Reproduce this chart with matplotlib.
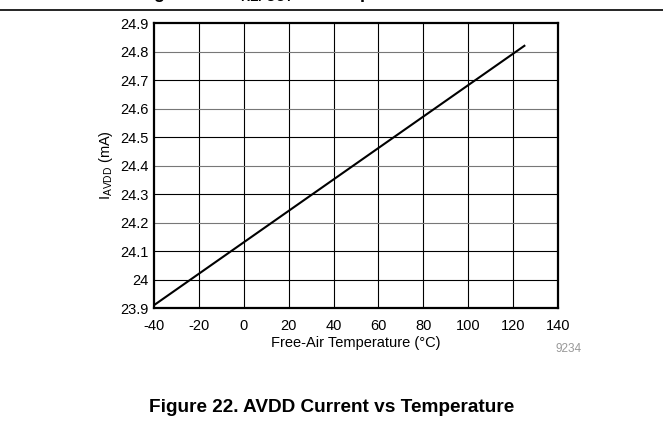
import numpy as np
import matplotlib
matplotlib.use("Agg")
import matplotlib.pyplot as plt

plt.rcParams['font.family'] = ['Liberation Sans', 'DejaVu Sans']
plt.rcParams['axes.unicode_minus'] = False

# data
temp = [-40, 125]
i_avdd = [23.91, 24.82]
xticks = [-40, -20, 0, 20, 40, 60, 80, 100, 120, 140]
yticks = [23.9, 24, 24.1, 24.2, 24.3, 24.4, 24.5, 24.6, 24.7, 24.8, 24.9]
ylabels = ['23.9', '24', '24.1', '24.2', '24.3', '24.4', '24.5', '24.6', '24.7', '24.8', '24.9']

fig = plt.figure(figsize=(6.63, 4.34), dpi=100)
ax = fig.add_axes([0.2323, 0.2903, 0.6094, 0.6567])

for x in xticks[1:-1]:
    ax.axvline(x, color='black', lw=0.8, zorder=1)
for k, y in enumerate(yticks[1:-1]):
    ax.axhline(y, color='#777777' if k in (2, 4, 6, 8) else 'black', lw=0.8, zorder=1)

ax.plot(temp, i_avdd, color='black', lw=1.5, zorder=3)

ax.set_xlim(-40, 140)
ax.set_ylim(23.9, 24.9)
ax.set_xticks(xticks)
ax.set_xticklabels([str(v) for v in xticks])
ax.set_yticks(yticks)
ax.set_yticklabels(ylabels)
ax.tick_params(length=0, labelsize=10.5)
ax.tick_params(axis='x', pad=8)
ax.tick_params(axis='y', pad=4)
for s in ax.spines.values():
    s.set_linewidth(1.6)

ax.set_xlabel('Free-Air Temperature (°C)', fontsize=10.5, labelpad=2)
ax.set_ylabel('I$_{\\mathregular{AVDD}}$ (mA)', fontsize=10.5, labelpad=4)

fig.text(0.857, 0.196, '9234', fontsize=8.5, color='#999999', ha='center', va='center')

# page decoration: rule line and clipped previous caption
fig.add_artist(plt.Line2D([0, 1], [0.977, 0.977], color='black', lw=1.2, transform=fig.transFigure))
fig.text(0.43, 1.014, 'Figure 21. V$_{\\mathregular{REFOUT}}$ vs Temperature', fontsize=13,
         fontweight='bold', ha='center', va='center')

fig.text(0.5, 0.062, 'Figure 22. AVDD Current vs Temperature', fontsize=13.7,
         fontweight='bold', ha='center', va='center')

fig.savefig('out.png', dpi=100)
